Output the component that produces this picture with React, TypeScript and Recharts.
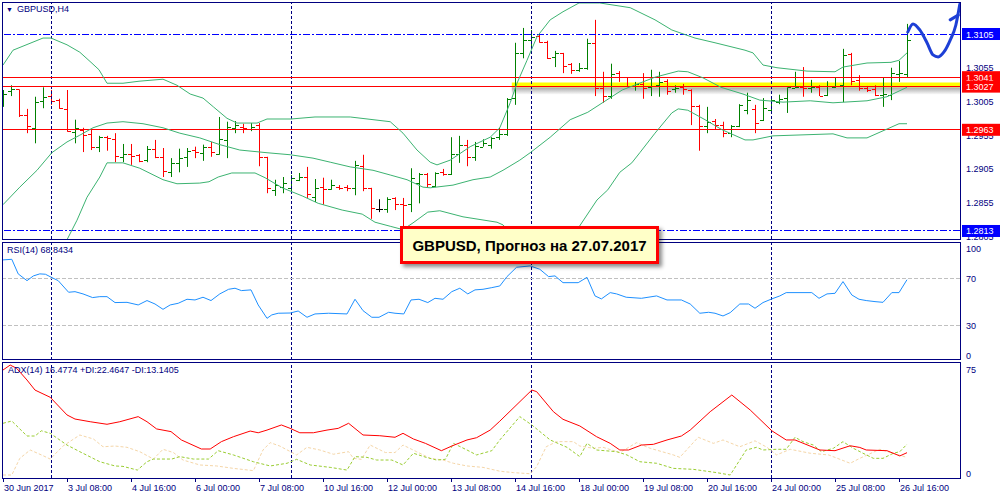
import React from "react";
import {
  ComposedChart,
  Bar,
  Line,
  XAxis,
  YAxis,
  ReferenceLine,
  ReferenceArea,
} from "recharts";

const FONT = "'Liberation Sans', Arial, sans-serif";
const NAVY = "#000080";

// GBPUSD H4 bars, 30 Jun 2017 00:00 .. 26 Jul 2017 20:00 (index = bar number)
const opens = [
  1.3007, 1.3021, 1.3023, 1.2985, 1.2966, 1.3006, 1.3013, 1.3007, 1.2994, 1.296,
  1.2963, 1.2957, 1.2938, 1.2952, 1.2949, 1.2923, 1.2927, 1.2926, 1.2918, 1.2935,
  1.2923, 1.29, 1.2914, 1.2923, 1.2933, 1.2929, 1.2938, 1.2927, 1.2948, 1.2966,
  1.2967, 1.2964, 1.297, 1.2923, 1.2874, 1.2878, 1.2877, 1.2889, 1.2893, 1.2863,
  1.2878, 1.2875, 1.2878, 1.2878, 1.2877, 1.2909, 1.2877, 1.2846, 1.2846, 1.2862,
  1.2853, 1.2853, 1.2884, 1.2898, 1.288, 1.29, 1.2898, 1.2927, 1.2941, 1.2923,
  1.2938, 1.2941, 1.2952, 1.2957, 1.301, 1.3077, 1.3096, 1.3102, 1.3093, 1.3071,
  1.3077, 1.3061, 1.3052, 1.3055, 1.3092, 1.3025, 1.3013, 1.3047, 1.3041, 1.3028,
  1.3031, 1.3026, 1.3029, 1.3035, 1.3023, 1.3026, 1.3022, 1.2998, 1.2969, 1.2976,
  1.297, 1.2958, 1.2969, 1.2992, 1.2994, 1.2978, 1.2992, 1.3004, 1.301, 1.3025,
  1.3026, 1.3025, 1.3026, 1.3015, 1.3026, 1.3029, 1.3075, 1.3037, 1.3025, 1.3023,
  1.3015, 1.3015, 1.3046, 1.3046,
];
const highs = [
  1.3022, 1.3029, 1.3023, 1.2994, 1.3012, 1.3026, 1.3022, 1.3009, 1.3022, 1.2978,
  1.2966, 1.2963, 1.2954, 1.2954, 1.2958, 1.2942, 1.2942, 1.2927, 1.2939, 1.2948,
  1.2936, 1.2921, 1.2935, 1.2936, 1.2938, 1.2941, 1.2945, 1.2982, 1.2975, 1.2976,
  1.2972, 1.2973, 1.2973, 1.2923, 1.2889, 1.2893, 1.2896, 1.2899, 1.2908, 1.289,
  1.2892, 1.2889, 1.2881, 1.2881, 1.2917, 1.2926, 1.2877, 1.286, 1.2863, 1.2863,
  1.2862, 1.2906, 1.2899, 1.2899, 1.29, 1.2905, 1.2952, 1.2954, 1.2948, 1.2945,
  1.2949, 1.2952, 1.2966, 1.301, 1.3092, 1.3114, 1.3111, 1.3104, 1.3095, 1.308,
  1.3077, 1.3062, 1.3062, 1.3098, 1.3126, 1.3049, 1.3061, 1.305, 1.3041, 1.3034,
  1.3047, 1.3052, 1.3049, 1.3038, 1.3029, 1.3031, 1.3023, 1.3, 1.2997, 1.2979,
  1.2975, 1.297, 1.3001, 1.3018, 1.3, 1.301, 1.301, 1.3015, 1.3026, 1.3049,
  1.3056, 1.3037, 1.3029, 1.3035, 1.304, 1.3083, 1.3077, 1.3044, 1.3028, 1.3029,
  1.304, 1.3055, 1.3065, 1.312,
];
const lows = [
  1.2997, 1.3013, 1.2982, 1.2958, 1.2943, 1.2995, 1.3, 1.2994, 1.296, 1.2943,
  1.293, 1.2933, 1.293, 1.2932, 1.2915, 1.2915, 1.2911, 1.2915, 1.2915, 1.2921,
  1.2893, 1.2893, 1.29, 1.2908, 1.2921, 1.2917, 1.2923, 1.2926, 1.2921, 1.2958,
  1.2958, 1.2961, 1.2909, 1.2869, 1.2865, 1.2869, 1.2872, 1.2887, 1.2862, 1.2856,
  1.2852, 1.2874, 1.2874, 1.2872, 1.2866, 1.2872, 1.2831, 1.2841, 1.284, 1.2844,
  1.2815, 1.2841, 1.2854, 1.2877, 1.2878, 1.2895, 1.2896, 1.2914, 1.2909, 1.2917,
  1.2938, 1.2935, 1.2948, 1.2954, 1.3, 1.3069, 1.3086, 1.3092, 1.3068, 1.3056,
  1.3047, 1.3046, 1.3049, 1.3052, 1.3013, 1.3003, 1.3009, 1.3034, 1.3026, 1.3021,
  1.3009, 1.3013, 1.3012, 1.3015, 1.3018, 1.3015, 1.297, 1.2932, 1.2958, 1.2964,
  1.2952, 1.2952, 1.2967, 1.2986, 1.2958, 1.2976, 1.2989, 1.3001, 1.2988, 1.3025,
  1.3012, 1.3018, 1.3013, 1.3013, 1.3025, 1.3004, 1.3029, 1.3021, 1.3019, 1.3013,
  1.2997, 1.3007, 1.3034, 1.3041,
];
const closes = [
  1.3016, 1.3023, 1.2985, 1.2969, 1.3004, 1.3012, 1.3006, 1.2995, 1.2961, 1.2966,
  1.2955, 1.2938, 1.2952, 1.2951, 1.2924, 1.2927, 1.2924, 1.2917, 1.2935, 1.2923,
  1.2902, 1.2914, 1.2921, 1.2932, 1.293, 1.2938, 1.293, 1.2949, 1.2967, 1.297,
  1.2966, 1.2967, 1.2923, 1.2877, 1.2881, 1.2884, 1.2892, 1.2893, 1.2868, 1.2877,
  1.2875, 1.2881, 1.2877, 1.2877, 1.2911, 1.2877, 1.2847, 1.2846, 1.286, 1.2853,
  1.2852, 1.2892, 1.2898, 1.2883, 1.2899, 1.2898, 1.2927, 1.2941, 1.2923, 1.2939,
  1.2943, 1.2951, 1.2957, 1.3009, 1.3077, 1.3096, 1.3101, 1.3093, 1.3069, 1.3077,
  1.3058, 1.3052, 1.3055, 1.3092, 1.3025, 1.3013, 1.3046, 1.3041, 1.3028, 1.3031,
  1.3025, 1.3041, 1.3034, 1.3021, 1.3025, 1.3023, 1.2998, 1.2969, 1.2975, 1.297,
  1.2958, 1.2969, 1.3, 1.3007, 1.2973, 1.2995, 1.3007, 1.3009, 1.3026, 1.3026,
  1.3025, 1.3026, 1.3013, 1.3028, 1.3028, 1.3074, 1.3035, 1.3025, 1.3022, 1.3015,
  1.3016, 1.3047, 1.3047, 1.3096,
];

// Bollinger bands (20), read as [bar, price]
const bbUpper = [
  [0, 1.3059], [1.25, 1.3081], [3.75, 1.3093], [5, 1.3099], [6, 1.3099], [8, 1.3089],
  [9.6, 1.3078], [11, 1.3063], [12, 1.3052], [13, 1.3032], [15, 1.3032], [17, 1.3035],
  [20, 1.3038], [21.75, 1.3029], [23.4, 1.3016], [25, 1.301], [26.3, 1.2997], [28, 1.298],
  [29.25, 1.2973], [31.75, 1.2973], [33, 1.2979], [36, 1.2979], [39, 1.2982], [43.4, 1.2982],
  [48.4, 1.2975], [50, 1.2958], [51.75, 1.2933], [53.4, 1.2915], [54.25, 1.2911],
  [55.9, 1.2918], [58.4, 1.2938], [60.9, 1.2952], [62.1, 1.2966], [63.4, 1.3003],
  [64.25, 1.3032], [65.5, 1.3066], [66.75, 1.3101], [68.4, 1.3126], [70, 1.3138],
  [72, 1.3151], [74.6, 1.3151], [78.4, 1.3144], [81.5, 1.3126], [83.6, 1.3111],
  [86.5, 1.3099], [89, 1.3092], [92.75, 1.3081], [93.75, 1.3077], [95, 1.3059],
  [96.75, 1.3055], [100.5, 1.305], [104, 1.3049], [105, 1.3056], [108, 1.3062],
  [111, 1.3063], [112, 1.3066], [113, 1.3077],
];
const bbMiddle = [
  [0, 1.2852], [2.1, 1.2878], [4.25, 1.2903], [6.1, 1.2929], [8, 1.2945], [9.6, 1.2955],
  [11.25, 1.2966], [13, 1.2973], [15, 1.2975], [17.5, 1.2972], [20, 1.2966], [22.1, 1.2958],
  [24.6, 1.2951], [27.1, 1.2941], [29.6, 1.2933], [33, 1.2929], [35.9, 1.2926],
  [38.75, 1.2921], [40.9, 1.2915], [43.4, 1.2908], [46.25, 1.2903], [48.4, 1.2896],
  [50.5, 1.2889], [52.5, 1.2878], [53.4, 1.2877], [56.25, 1.2881], [58.75, 1.2889],
  [60.9, 1.2893], [62.5, 1.2903], [64.6, 1.2918], [65.9, 1.2929], [68.4, 1.2952],
  [70.9, 1.2978], [73.1, 1.2989], [77.4, 1.3022], [81.5, 1.3041], [84.4, 1.305],
  [85.6, 1.3049], [87.5, 1.304], [89.75, 1.3026], [92.5, 1.3016], [94.6, 1.3007],
  [97.5, 1.3004], [100.9, 1.3006], [103.75, 1.3003], [108, 1.3006], [110.5, 1.3012],
  [113, 1.3026],
];
const bbLower = [
  [0, 1.2644], [2, 1.2665], [4, 1.2708], [6, 1.2752], [8, 1.28], [9.25, 1.2829],
  [10.5, 1.2863], [12.1, 1.2893], [13, 1.2914], [15, 1.2914], [17.1, 1.2906], [20, 1.2889],
  [21.75, 1.2883], [24.6, 1.2884], [25.75, 1.2886], [26.9, 1.2893], [28.6, 1.2899],
  [31.5, 1.2899], [32.75, 1.2892], [34.9, 1.2877], [37.4, 1.2865], [39.4, 1.2854],
  [42.4, 1.2844], [44.9, 1.2838], [46.5, 1.2826], [48.4, 1.282], [50, 1.2815],
  [51.25, 1.2825], [53.1, 1.2841], [54.6, 1.2843], [57.5, 1.2834], [61.75, 1.2826],
  [62.5, 1.2822], [64, 1.2803], [66, 1.2782], [68.4, 1.2776], [71, 1.2811], [72, 1.2819],
  [74.25, 1.2859], [75.6, 1.2874], [77.1, 1.29], [78.6, 1.2914], [79.6, 1.2929],
  [81.5, 1.2958], [83.6, 1.2988], [84.4, 1.2994], [85.6, 1.2992], [87.75, 1.2978],
  [89.9, 1.2963], [92.75, 1.2948], [93.75, 1.2948], [96.25, 1.2954], [103.75, 1.2957],
  [105.5, 1.2951], [108, 1.2951], [112, 1.2972], [113, 1.2972],
];

// RSI(14)
const rsiValues = [
  [0, 85.5], [1.1, 86], [1.9, 73.7], [3, 68], [3.8, 72], [4.6, 73.7], [5.3, 73.4],
  [6.1, 70.6], [6.9, 68], [8.2, 58.2], [9, 58.7], [10, 56.8], [11.2, 53.7], [12.1, 54.5],
  [13, 54.5], [14, 49.5], [15.5, 49.7], [16.9, 47.5], [18, 51.2], [19, 48.3], [20, 43.8],
  [20.9, 47.5], [21.9, 48.9], [23, 52.3], [24, 51.7], [25, 54], [26, 51.2], [27.1, 56.8],
  [28.2, 60.7], [29, 61.6], [29.8, 59.6], [31, 60.2], [31.9, 47.5], [33, 36.2],
  [33.6, 39.1], [34.4, 40.5], [35.9, 40.7], [36.9, 42.4], [38, 37.1], [39, 39.9],
  [40.7, 40.5], [43, 39.9], [44, 52.3], [45, 42.7], [46.1, 37.1], [47, 37.1], [48.2, 41.3],
  [49, 40.5], [50.1, 39.9], [51, 51.7], [52, 52.3], [53.1, 49.5], [54, 53.1], [55, 52.3],
  [56.1, 58.7], [57.1, 61.6], [58.1, 56.8], [59, 60.2], [60, 60.7], [61.1, 62.1],
  [62.1, 63.5], [63, 71.4], [64.2, 79.3], [65.9, 80.4], [67.1, 77.6], [68.2, 71.4],
  [69, 72], [70, 66.3], [71.9, 66.3], [73, 70.8], [74, 55.1], [74.8, 52.6], [75.9, 57.9],
  [76.7, 56.8], [77.9, 54], [79.8, 53.1], [81.7, 55.1], [83, 51.7], [84.8, 51.7],
  [85.9, 48.3], [87.1, 40.5], [88.2, 41.3], [89, 40.5], [90, 38.2], [90.9, 41],
  [92.1, 48.3], [93.2, 48.3], [94, 44.7], [95, 49.5], [96.1, 52.6], [97.1, 55.1],
  [97.9, 57.9], [101.1, 57.9], [102, 53.1], [103, 56.8], [104, 57.3], [105, 67.2],
  [106.1, 55.9], [107, 52.3], [107.9, 51.2], [109, 50.3], [110, 49.7], [111.1, 57.9],
  [112, 57.9], [113, 68.8],
];

// ADX(14), +DI, -DI
const adxValues = [
  [0, 75], [0.9, 78.5], [1.7, 76.2], [3, 67.9], [4, 60.8], [5.9, 55.7], [8, 43.2],
  [9, 40.3], [10.9, 38.4], [13, 36.6], [14.6, 38.4], [16.9, 42], [18, 38.4], [19.2, 33.3],
  [21, 31.4], [22.3, 25.5], [24.8, 19.1], [25.9, 19.1], [27.3, 24.3], [28.8, 27.8],
  [30.9, 31.8], [31.9, 30.6], [33, 32.5], [34.8, 36.1], [35.9, 33.7], [37.1, 30.6],
  [38.8, 30.6], [40.5, 32.5], [41.9, 33.7], [43.2, 37.3], [45, 29], [47.1, 28.5],
  [49, 27.4], [50, 30.2], [51.3, 26.2], [52.8, 23.1], [54.8, 17.9], [56.1, 21.2],
  [58, 25.5], [59.2, 27.1], [60.9, 32.5], [62.1, 38.8], [66.1, 60.8], [66.7, 59.7],
  [68.8, 45.5], [70, 40.1], [72.1, 35.4], [74.2, 27.8], [75.9, 23.1], [77.1, 18.4],
  [78.2, 18.4], [79.8, 21.9], [81.3, 22.4], [83, 25.5], [84.8, 28.3], [85.9, 32.5],
  [88.4, 45.5], [91.1, 57.3], [93.4, 46.7], [96.1, 32], [97.9, 25.5], [99, 25.5],
  [102.1, 18.4], [104, 17.9], [105.9, 21.4], [107.1, 20.2], [107.9, 18.4], [110.5, 17.9],
  [112.1, 14.2], [113, 16.5],
];
const plusDiValues = [
  [0, 37.3], [1.1, 38.9], [3, 28.3], [4, 28.3], [4.8, 32], [5.9, 30.2], [8, 21.9],
  [9.6, 17.2], [12.1, 10.1], [14, 7.1], [15, 6.8], [16.8, 4.2], [18, 10.1], [18.8, 12],
  [21.1, 12], [22.1, 13.7], [23.8, 12], [25.7, 12], [26.9, 17.9], [28.8, 14.9],
  [31.3, 10.1], [33.4, 7.1], [35.5, 9], [36.7, 11.8], [38.4, 7.8], [40.9, 6.1], [43, 4.2],
  [44, 13.7], [45.5, 13.2], [46.7, 11.3], [48.6, 11.3], [50, 7.8], [51.3, 16.1],
  [52.9, 13.2], [54.2, 11.3], [55.3, 11.8], [56.3, 23.1], [58, 18.4], [59.2, 14.9],
  [61.1, 17.9], [62.1, 25.5], [64.6, 42], [66.1, 36.1], [68.4, 25.5], [70.5, 20.3],
  [72.1, 13.7], [73, 23.1], [74.2, 18.4], [76.7, 17.2], [78, 14.9], [79.6, 10.1],
  [81.7, 9], [83.8, 5.4], [86.3, 4.7], [89.2, 2.4], [90.9, 0.7], [92.9, 18.4],
  [94.2, 20.3], [95, 18.4], [96.7, 18.9], [97.9, 18.9], [99, 27.4], [100, 24.3],
  [101.3, 21.9], [102.3, 17.2], [103.8, 19.6], [105, 24.3], [106.3, 19.6], [107.5, 16.1],
  [108.8, 12.5], [110, 12.5], [111.3, 16.1], [112.1, 17.2], [113, 22.5],
];
const minusDiValues = [
  [0, 0.7], [1.1, 0.7], [2.1, 12.5], [3.4, 18.4], [4.8, 14.9], [5.9, 12], [7.5, 21.2],
  [9.6, 29], [11.3, 26.2], [12.5, 20.7], [14, 21.2], [15.5, 20.3], [17.1, 17.2],
  [18.8, 12], [20, 18.9], [21.3, 16.6], [22.5, 11.3], [24.6, 7.8], [26.7, 7.1],
  [28.8, 5.4], [31.3, 3.8], [32.5, 18.4], [33.4, 23.6], [34.6, 21.2], [36.7, 14.9],
  [38, 20.3], [39.6, 18.4], [41.3, 15.4], [43.2, 17.2], [43.8, 12.5], [44.8, 11.8],
  [45.9, 21.9], [47.8, 16.6], [49, 16.6], [50, 21.9], [51.7, 17.2], [53.4, 12.5],
  [55, 11.3], [56.3, 9], [58, 7.1], [60, 6.1], [62.1, 3.4], [63.8, 2.4], [65.9, 1.6],
  [66.7, 6.6], [67.9, 20.7], [69.2, 24.3], [71.3, 24.3], [72.1, 21.2], [73.8, 19.6],
  [75, 20.3], [77.1, 16.6], [79.2, 23.6], [80.9, 19.6], [83.8, 14.9], [84.6, 13.2],
  [86.9, 27.4], [88.8, 23.1], [90, 25.5], [92.1, 20.7], [94, 24.9], [95.5, 20.3],
  [96.7, 14.9], [98.4, 18.9], [100.9, 16.1], [103.2, 14.9], [105.9, 9], [107.1, 12.5],
  [109.6, 18.9], [111.3, 16.1], [113, 13.1],
];

// hand-drawn forecast arrow, [bar, price]
const forecastPath = [
  [113.1, 1.3108], [113.75, 1.312], [114.6, 1.3111], [115.5, 1.3092], [116.25, 1.3074],
  [116.9, 1.3071], [117.6, 1.3078], [118.4, 1.3096], [119.1, 1.3118], [119.6, 1.3149],
];
const forecastBarb = [[118.4, 1.3126], [119.4, 1.3133]];

const timeTicks = [0, 8, 16, 24, 32, 40, 48, 56, 64, 72, 80, 88, 96, 104, 112];
const timeLabels = [
  "30 Jun 2017", "3 Jul 08:00", "4 Jul 16:00", "6 Jul 00:00", "7 Jul 08:00",
  "10 Jul 16:00", "12 Jul 00:00", "13 Jul 08:00", "14 Jul 16:00", "18 Jul 00:00",
  "19 Jul 08:00", "20 Jul 16:00", "24 Jul 00:00", "25 Jul 08:00", "26 Jul 16:00",
];
const weekStarts = [6, 36, 66, 96];

const priceTicks = [1.2805, 1.2855, 1.2905, 1.2955, 1.3005, 1.3055];
const blueLevels = [1.3105, 1.2813];
const redLevels = [1.3041, 1.3027, 1.2963];
const rsiTicks = [100, 70, 30, 0];
const adxTicks = [75, 0];

const X_DOMAIN = [-0.125, 119.625];
const toPts = (arr: number[][]) => arr.map(([i, v]) => ({ i, v }));

const candles = opens.map((o, i) => ({
  i,
  o,
  h: highs[i],
  l: lows[i],
  c: closes[i],
  range: [lows[i], highs[i]],
}));

const OhlcBar = (props: any) => {
  const { x, y, width, height, payload } = props;
  if (!payload || !isFinite(y) || !isFinite(height)) return null;
  const { o, h, l, c } = payload;
  const k = height / (h - l || 1);
  const cx = Math.round(x + width / 2);
  const col = c > o ? "#008000" : c < o ? "#ff0000" : "#000000";
  return (
    <g>
      <rect x={cx} y={y} width={1} height={Math.max(height, 1)} fill={col} />
      <rect x={cx - 3} y={Math.round(y + (h - o) * k)} width={3} height={1} fill={col} />
      <rect x={cx + 1} y={Math.round(y + (h - c) * k)} width={3} height={1} fill={col} />
    </g>
  );
};

const tagColor = (label: string) => {
  if (blueLevels.some((p) => p.toFixed(4) === label)) return "#0000ff";
  if (redLevels.some((p) => p.toFixed(4) === label)) return "#ff0000";
  return null;
};

const PriceTick = (props: any) => {
  const { x, y, payload } = props;
  const label = Number(payload.value).toFixed(4);
  const col = tagColor(label);
  if (col) {
    return (
      <g>
        <rect x={x + 2} y={y - 6} width={40} height={12} fill={col} />
        <text x={x + 6} y={y + 3.5} fill="#ffffff" fontSize={9} fontFamily={FONT}>
          {label}
        </text>
      </g>
    );
  }
  return (
    <text x={x + 6} y={y + 3.5} fill={NAVY} fontSize={9} fontFamily={FONT}>
      {label}
    </text>
  );
};

const ScaleTick = (props: any) => {
  const { x, y, payload, shift } = props;
  const dy = (shift && shift[payload.value]) || 0;
  return (
    <text x={x + 6} y={y + 3.5 + dy} fill={NAVY} fontSize={9} fontFamily={FONT}>
      {payload.value}
    </text>
  );
};

const TimeTick = (props: any) => {
  const { x, y, payload } = props;
  const idx = timeTicks.indexOf(payload.value);
  return (
    <g>
      <line x1={x + 0.5} x2={x + 0.5} y1={y} y2={y + 4} stroke={NAVY} />
      <text x={x + 1} y={y + 13} fill={NAVY} fontSize={9} fontFamily={FONT}>
        {timeLabels[idx]}
      </text>
    </g>
  );
};

const weekLines = () =>
  weekStarts.map((w) => (
    <ReferenceLine
      key={`w${w}`}
      x={w}
      stroke={NAVY}
      strokeDasharray="3 2"
      shapeRendering="crispEdges"
    />
  ));

const frame = (top: number, height: number) => ({
  position: "absolute" as const,
  left: 2,
  top,
  width: 959,
  height,
  border: `1px solid ${NAVY}`,
  boxSizing: "border-box" as const,
  pointerEvents: "none" as const,
});

const caption = (left: number, top: number) => ({
  position: "absolute" as const,
  left,
  top,
  fontFamily: FONT,
  fontSize: 9,
  color: NAVY,
  whiteSpace: "nowrap" as const,
});

export default function App() {
  return (
    <div
      style={{
        position: "absolute",
        left: 0,
        top: 0,
        width: 1000,
        height: 500,
        background: "#ffffff",
        overflow: "hidden",
      }}
    >
      {/* price window */}
      <div style={{ position: "absolute", left: 0, top: 0 }}>
        <ComposedChart
          width={1000}
          height={240}
          data={candles}
          margin={{ top: 2, right: 0, bottom: 1, left: 2 }}
        >
          <defs>
            <linearGradient id="bandShadow" x1="0" y1="0" x2="0" y2="1">
              <stop offset="0%" stopColor="#000000" stopOpacity={0.35} />
              <stop offset="100%" stopColor="#000000" stopOpacity={0} />
            </linearGradient>
          </defs>
          <XAxis
            dataKey="i"
            type="number"
            domain={X_DOMAIN}
            allowDataOverflow
            ticks={timeTicks}
            hide
          />
          <YAxis
            orientation="right"
            width={40}
            type="number"
            domain={[1.280112, 1.315244]}
            allowDataOverflow
            ticks={[...priceTicks, blueLevels[1], redLevels[2], redLevels[0], redLevels[1], blueLevels[0]]}
            interval={0}
            axisLine={false}
            tickLine={false}
            tickSize={0}
            tickMargin={0}
            tick={<PriceTick />}
          />
          <ReferenceArea
            x1={63.6}
            x2={119.625}
            y1={1.3015}
            y2={1.3026}
            fill="url(#bandShadow)"
            fillOpacity={1}
            stroke="none"
          />
          <ReferenceArea
            x1={63.6}
            x2={119.625}
            y1={1.3026}
            y2={1.3033}
            fill="#ffff00"
            fillOpacity={1}
            stroke="none"
          />
          {weekLines()}
          {blueLevels.map((p) => (
            <ReferenceLine
              key={`b${p}`}
              y={p}
              stroke="#0000ff"
              strokeDasharray="7 2 2 2"
              shapeRendering="crispEdges"
            />
          ))}
          {redLevels.map((p) => (
            <ReferenceLine key={`r${p}`} y={p} stroke="#ff0000" shapeRendering="crispEdges" />
          ))}
          <Bar
            dataKey="range"
            barSize={3}
            shape={<OhlcBar />}
            isAnimationActive={false}
          />
          <Line data={toPts(bbUpper)} dataKey="v" stroke="#3cb371" strokeWidth={1} dot={false} activeDot={false} isAnimationActive={false} />
          <Line data={toPts(bbMiddle)} dataKey="v" stroke="#3cb371" strokeWidth={1} dot={false} activeDot={false} isAnimationActive={false} />
          <Line data={toPts(bbLower)} dataKey="v" stroke="#3cb371" strokeWidth={1} dot={false} activeDot={false} isAnimationActive={false} />
          <Line
            data={toPts(forecastPath)}
            dataKey="v"
            type="monotone"
            stroke="#1d3fd6"
            strokeWidth={3}
            strokeLinecap="round"
            dot={false}
            activeDot={false}
            isAnimationActive={false}
          />
          <Line
            data={toPts(forecastBarb)}
            dataKey="v"
            stroke="#1d3fd6"
            strokeWidth={3}
            strokeLinecap="round"
            dot={false}
            activeDot={false}
            isAnimationActive={false}
          />
        </ComposedChart>
      </div>

      {/* RSI window */}
      <div style={{ position: "absolute", left: 0, top: 240 }}>
        <ComposedChart
          width={1000}
          height={121}
          data={toPts(rsiValues)}
          margin={{ top: 2, right: 0, bottom: 1, left: 2 }}
        >
          <XAxis
            dataKey="i"
            type="number"
            domain={X_DOMAIN}
            allowDataOverflow
            ticks={timeTicks}
            hide
          />
          <YAxis
            orientation="right"
            width={40}
            type="number"
            domain={[1.05, 100.6]}
            allowDataOverflow
            ticks={rsiTicks}
            interval={0}
            axisLine={false}
            tickLine={false}
            tickSize={0}
            tickMargin={0}
            tick={<ScaleTick shift={{ 100: 6, 0: -6 }} />}
          />
          {weekLines()}
          <ReferenceLine y={70} stroke="#c0c0c0" strokeDasharray="4 2" shapeRendering="crispEdges" />
          <ReferenceLine y={30} stroke="#c0c0c0" strokeDasharray="4 2" shapeRendering="crispEdges" />
          <Line dataKey="v" stroke="#1e90ff" strokeWidth={1} dot={false} activeDot={false} isAnimationActive={false} />
        </ComposedChart>
      </div>

      {/* ADX window */}
      <div style={{ position: "absolute", left: 0, top: 360 }}>
        <ComposedChart
          width={1000}
          height={140}
          data={toPts(adxValues)}
          margin={{ top: 2, right: 0, bottom: 0, left: 2 }}
        >
          <XAxis
            dataKey="i"
            type="number"
            domain={X_DOMAIN}
            allowDataOverflow
            ticks={timeTicks}
            interval={0}
            height={22}
            axisLine={false}
            tickLine={false}
            tickSize={0}
            tickMargin={0}
            tick={<TimeTick />}
          />
          <YAxis
            orientation="right"
            width={40}
            type="number"
            domain={[-1.415, 80.66]}
            allowDataOverflow
            ticks={adxTicks}
            interval={0}
            axisLine={false}
            tickLine={false}
            tickSize={0}
            tickMargin={0}
            tick={<ScaleTick shift={{ 0: -3 }} />}
          />
          {weekLines()}
          <Line data={toPts(minusDiValues)} dataKey="v" stroke="#f5d6a8" strokeWidth={1} strokeDasharray="3 2" dot={false} activeDot={false} isAnimationActive={false} />
          <Line data={toPts(plusDiValues)} dataKey="v" stroke="#9acd32" strokeWidth={1} strokeDasharray="3 2" dot={false} activeDot={false} isAnimationActive={false} />
          <Line dataKey="v" stroke="#ff0000" strokeWidth={1} dot={false} activeDot={false} isAnimationActive={false} />
        </ComposedChart>
      </div>

      <div style={frame(2, 238)} />
      <div style={frame(242, 118)} />
      <div style={frame(362, 117)} />

      <div style={caption(6, 4)}>
        <span style={{ fontSize: 7, marginRight: 4 }}>▼</span>GBPUSD,H4
      </div>
      <div style={caption(7, 245)}>RSI(14) 68.8434</div>
      <div style={caption(8, 365)}>ADX(14) 16.4774 +DI:22.4647 -DI:13.1405</div>

      <div
        style={{
          position: "absolute",
          left: 400,
          top: 226,
          width: 259,
          height: 38,
          border: "3px solid #ff0000",
          background: "#ffffc8",
          boxSizing: "border-box",
          boxShadow: "3px 3px 4px rgba(0,0,0,0.45)",
          display: "flex",
          alignItems: "center",
          justifyContent: "center",
          fontFamily: FONT,
          fontWeight: "bold",
          fontSize: 15,
          color: "#000000",
          whiteSpace: "nowrap",
        }}
      >
        GBPUSD, Прогноз на 27.07.2017
      </div>
    </div>
  );
}
